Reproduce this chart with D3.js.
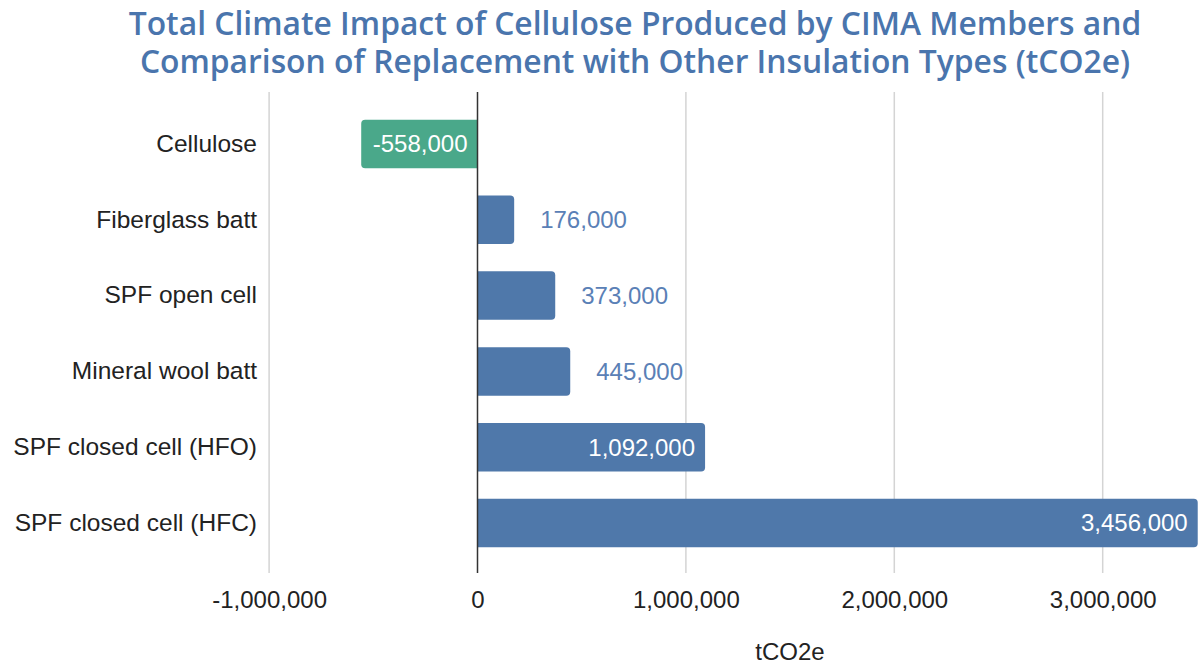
<!DOCTYPE html>
<html>
<head>
<meta charset="utf-8">
<script src="https://cdn.jsdelivr.net/npm/d3@7"></script>
<style>
  html, body { margin: 0; padding: 0; background: #fff; }
  svg { display: block; }
</style>
</head>
<body>
<svg id="chart" width="1198" height="671"></svg>
<script>
const titleLines = [
  "Total Climate Impact of Cellulose Produced by CIMA Members and",
  "Comparison of Replacement with Other Insulation Types (tCO2e)"
];
const categories = [
  "Cellulose",
  "Fiberglass batt",
  "SPF open cell",
  "Mineral wool batt",
  "SPF closed cell (HFO)",
  "SPF closed cell (HFC)"
];
const values = [-558000, 176000, 373000, 445000, 1092000, 3456000];
const tickValues = [-1000000, 0, 1000000, 2000000, 3000000];
const axisTitle = "tCO2e";

const svg = d3.select("#chart");
const BLUE = "#4f78aa", GREEN = "#4aa88a", TITLE = "#4a75ad";
const fmt0 = d3.format(",");
const fmt = v => fmt0(v).replace("\u2212", "-");

// title
svg.append("g").selectAll("text").data(titleLines).join("text")
  .attr("x", 635).attr("y", (d, i) => 34.5 + i * 38.5)
  .attr("text-anchor", "middle")
  .attr("font-family", "'Open Sans', sans-serif")
  .attr("font-weight", 600)
  .attr("font-size", 31.8)
  .attr("fill", TITLE)
  .text(d => d);

const x = d3.scaleLinear().domain([-1000000, 3500000]).range([269.1, 269.1 + 4.5 * 208.4]);
const y = d3.scaleBand().domain(categories).range([106, 561]).paddingInner(0.36).paddingOuter(0.18);

const gridTop = 92, gridBottom = 573;

// grid
svg.append("g").selectAll("line").data(tickValues.filter(t => t !== 0)).join("line")
  .attr("x1", d => x(d)).attr("x2", d => x(d))
  .attr("y1", gridTop).attr("y2", gridBottom)
  .attr("stroke", "#d4d4d4").attr("stroke-width", 1.5);

// axis (labels only)
const axis = d3.axisBottom(x).tickValues(tickValues).tickFormat(fmt).tickSize(0).tickPadding(0);
const ag = svg.append("g").attr("transform", `translate(0, ${gridBottom + 18})`).call(axis);
ag.select(".domain").remove();
ag.selectAll("text")
  .attr("font-family", "'Liberation Sans', Arial, sans-serif")
  .attr("font-size", 24).attr("fill", "#222").attr("dy", "0.71em");

// category labels
const yAxis = d3.axisLeft(y).tickSize(0).tickPadding(0);
const yg = svg.append("g").attr("transform", "translate(257, 0)").call(yAxis);
yg.select(".domain").remove();
yg.selectAll("text")
  .attr("font-family", "'Liberation Sans', Arial, sans-serif")
  .attr("font-size", 24.5).attr("fill", "#222");

// bars with rounded value end
const r = 4;
function barPath(v, cat) {
  const x0 = x(0), x1 = x(v), y0 = y(cat), h = y.bandwidth();
  const s = v >= 0 ? -1 : 1;
  const p = d3.path();
  p.moveTo(x0, y0);
  p.lineTo(x1 + s * r, y0);
  p.arcTo(x1, y0, x1, y0 + r, r);
  p.lineTo(x1, y0 + h - r);
  p.arcTo(x1, y0 + h, x1 + s * r, y0 + h, r);
  p.lineTo(x0, y0 + h);
  p.closePath();
  return p.toString();
}
const data = categories.map((c, i) => ({ c, v: values[i] }));
svg.append("g").selectAll("path").data(data).join("path")
  .attr("d", d => barPath(d.v, d.c))
  .attr("fill", d => d.v < 0 ? GREEN : BLUE);

// zero line
svg.append("line")
  .attr("x1", x(0)).attr("x2", x(0)).attr("y1", gridTop).attr("y2", gridBottom)
  .attr("stroke", "#333").attr("stroke-width", 1.5);

// value labels
svg.append("g").selectAll("text").data(data).join("text")
  .each(function (d) {
    const w = Math.abs(x(d.v) - x(0));
    const inside = w > 100;
    const t = d3.select(this);
    t.attr("y", y(d.c) + y.bandwidth() / 2).attr("dy", "0.35em")
      .attr("font-family", "'Liberation Sans', Arial, sans-serif")
      .attr("font-size", 24)
      .text(fmt(d.v));
    if (inside) {
      t.attr("x", Math.max(x(d.v), x(0)) - 10).attr("text-anchor", "end").attr("fill", "#fff");
    } else {
      t.attr("x", x(d.v) + 26).attr("text-anchor", "start").attr("fill", "#5a80b6");
    }
  });

// axis title
svg.append("text")
  .attr("x", 790).attr("y", 660)
  .attr("text-anchor", "middle")
  .attr("font-family", "'Liberation Sans', Arial, sans-serif")
  .attr("font-size", 24).attr("fill", "#222")
  .text(axisTitle);
</script>
</body>
</html>
